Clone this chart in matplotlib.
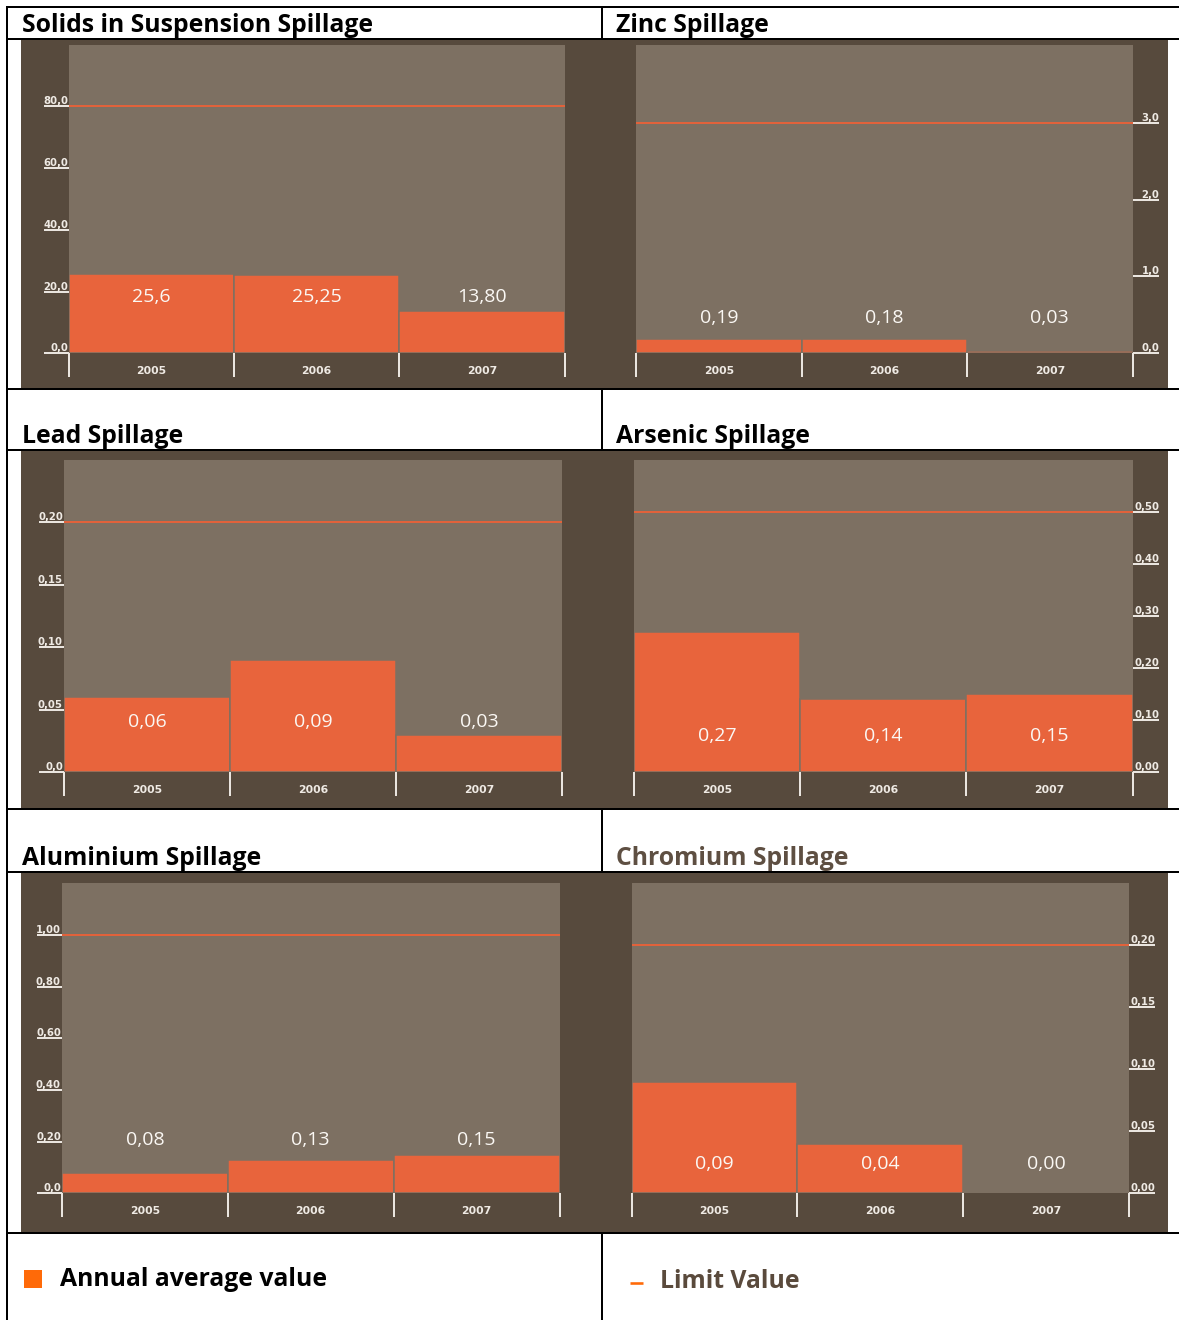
import matplotlib
matplotlib.use("Agg")
import matplotlib.pyplot as plt
from matplotlib.patches import Rectangle
from matplotlib.lines import Line2D

# ---------------------------------------------------------------- data
years = ["2005", "2006", "2007"]

solids_values = [25.6, 25.25, 13.80]
solids_labels = ["25,6", "25,25", "13,80"]
solids_limit = 80.0
solids_ticks = [0, 20, 40, 60, 80]
solids_ticklabels = ["0,0", "20,0", "40,0", "60,0", "80,0"]

zinc_values = [0.19, 0.18, 0.03]
zinc_labels = ["0,19", "0,18", "0,03"]
zinc_limit = 3.0
zinc_ticks = [0, 1, 2, 3]
zinc_ticklabels = ["0,0", "1,0", "2,0", "3,0"]

lead_values = [0.06, 0.09, 0.03]
lead_labels = ["0,06", "0,09", "0,03"]
lead_limit = 0.20
lead_ticks = [0, 0.05, 0.10, 0.15, 0.20]
lead_ticklabels = ["0,0", "0,05", "0,10", "0,15", "0,20"]

arsenic_values = [0.27, 0.14, 0.15]
arsenic_labels = ["0,27", "0,14", "0,15"]
arsenic_limit = 0.50
arsenic_ticks = [0, 0.10, 0.20, 0.30, 0.40, 0.50]
arsenic_ticklabels = ["0,00", "0,10", "0,20", "0,30", "0,40", "0,50"]

aluminium_values = [0.08, 0.13, 0.15]
aluminium_labels = ["0,08", "0,13", "0,15"]
aluminium_limit = 1.00
aluminium_ticks = [0, 0.20, 0.40, 0.60, 0.80, 1.00]
aluminium_ticklabels = ["0,0", "0,20", "0,40", "0,60", "0,80", "1,00"]

chromium_values = [0.09, 0.04, 0.00]
chromium_labels = ["0,09", "0,04", "0,00"]
chromium_limit = 0.20
chromium_ticks = [0, 0.05, 0.10, 0.15, 0.20]
chromium_ticklabels = ["0,00", "0,05", "0,10", "0,15", "0,20"]

titles = ["Solids in Suspension Spillage", "Zinc Spillage",
          "Lead Spillage", "Arsenic Spillage",
          "Aluminium Spillage", "Chromium Spillage"]
legend_labels = ["Annual average value", "Limit Value"]

# ---------------------------------------------------------------- style
W, H, DPI = 1179, 1320, 100
DARK = "#574a3d"
LIGHT = "#7d7062"
BAR = "#e8643c"
LIMIT = "#e4623a"
TICK = "#efeae4"
VALUE = "#fbf8f4"
LEGEND_ORANGE = "#ff6a08"
TITLE_FONT = ["Open Sans", "DejaVu Sans"]
SMALL_FONT = ["DejaVu Sans"]
PT = 72.0 / DPI  # points per pixel

plt.rcParams["font.family"] = TITLE_FONT

fig = plt.figure(figsize=(W / DPI, H / DPI), dpi=DPI, facecolor="white")


def fx(x):
    return x / W


def fy(y):
    return 1.0 - y / H


def hline(x0, x1, y, lw=2.0, color="black"):
    fig.add_artist(Line2D([fx(x0), fx(x1)], [fy(y), fy(y)], transform=fig.transFigure,
                          color=color, lw=lw * PT, zorder=10, solid_capstyle="butt"))


def vline(x, y0, y1, lw=2.0, color="black"):
    fig.add_artist(Line2D([fx(x), fx(x)], [fy(y0), fy(y1)], transform=fig.transFigure,
                          color=color, lw=lw * PT, zorder=10, solid_capstyle="butt"))


def rect(x0, y0, x1, y1, color, z=-5):
    fig.add_artist(Rectangle((fx(x0), fy(y1)), fx(x1 - x0), (y1 - y0) / H,
                             transform=fig.transFigure, facecolor=color,
                             edgecolor="none", zorder=z))


# brown bands behind each row of charts
for (top, bottom) in [(39, 388.5), (450.5, 808.5), (872.5, 1232)]:
    rect(21, top, 1168, bottom, DARK)

# table rules
for y in [7, 38.5, 389, 450, 809, 872.3, 1232.7]:
    hline(7, W, y)
vline(7.5, 6, H)
for (a, b) in [(6, 39), (388, 451), (808, 873), (1232, H)]:
    vline(602, a, b)

panels = [
    dict(values=solids_values, labels=solids_labels, limit=solids_limit,
         ticks=solids_ticks, ticklabels=solids_ticklabels, ymax=100.0,
         box=(69, 44.5, 564.5, 353.3), side="left", label_y=0.183,
         title=titles[0], title_xy=(22, 31.5), title_color="black"),
    dict(values=zinc_values, labels=zinc_labels, limit=zinc_limit,
         ticks=zinc_ticks, ticklabels=zinc_ticklabels, ymax=4.02,
         box=(636.2, 44.5, 1132.5, 353.3), side="right", label_y=0.114,
         title=titles[1], title_xy=(616, 31.5), title_color="black"),
    dict(values=lead_values, labels=lead_labels, limit=lead_limit,
         ticks=lead_ticks, ticklabels=lead_ticklabels, ymax=0.25,
         box=(64, 460, 562, 772.3), side="left", label_y=0.162,
         title=titles[2], title_xy=(22, 443), title_color="black"),
    dict(values=arsenic_values, labels=arsenic_labels, limit=arsenic_limit,
         ticks=arsenic_ticks, ticklabels=arsenic_ticklabels, ymax=0.60,
         box=(634.3, 460, 1132.5, 772.3), side="right", label_y=0.116,
         title=titles[3], title_xy=(616, 443), title_color="black"),
    dict(values=aluminium_values, labels=aluminium_labels, limit=aluminium_limit,
         ticks=aluminium_ticks, ticklabels=aluminium_ticklabels, ymax=1.20,
         box=(62, 883.3, 559.5, 1193.3), side="left", label_y=0.172,
         title=titles[4], title_xy=(22, 865), title_color="black"),
    dict(values=chromium_values, labels=chromium_labels, limit=chromium_limit,
         ticks=chromium_ticks, ticklabels=chromium_ticklabels, ymax=0.25,
         box=(631.8, 883.3, 1128.8, 1193.3), side="right", label_y=0.095,
         title=titles[5], title_xy=(616, 865), title_color="#5e4f42"),
]

YTICK_LEN = 25.5 * PT
XTICK_LEN = 24.0 * PT
TICK_SIZE = 7.3
YEAR_SIZE = 7.8

for p in panels:
    x0, y0, x1, y1 = p["box"]
    ax = fig.add_axes([fx(x0), fy(y1), fx(x1 - x0), (y1 - y0) / H])
    ax.set_facecolor(LIGHT)
    for s in ax.spines.values():
        s.set_visible(False)

    xs = list(range(len(years)))
    ax.bar(xs, p["values"], width=1.0, align="edge", color=BAR,
           edgecolor=LIGHT, linewidth=1.1, zorder=2)
    ax.axhline(p["limit"], color=LIMIT, lw=1.4, zorder=3)
    for i, lab in enumerate(p["labels"]):
        ax.text(i + 0.5, p["label_y"], lab, transform=ax.get_xaxis_transform(),
                ha="center", va="center", color=VALUE, fontsize=14,
                fontweight="medium", family=TITLE_FONT, zorder=4)

    ax.set_xlim(0, len(years))
    ax.set_ylim(0, p["ymax"])

    # x axis: white separators between years, year names centred below bars
    ax.set_xticks(range(len(years) + 1))
    ax.set_xticks([i + 0.5 for i in xs], minor=True)
    ax.set_xticklabels(years, minor=True)
    ax.tick_params(axis="x", which="major", length=XTICK_LEN, width=1.4,
                   color=TICK, labelbottom=False, direction="out")
    ax.tick_params(axis="x", which="minor", length=0, pad=9.3,
                   labelcolor=TICK, labelsize=YEAR_SIZE)
    for t in ax.get_xticklabels(minor=True):
        t.set_fontweight("bold")
        t.set_family(SMALL_FONT)

    # y axis: underlined value scale outside the plotting area
    ax.set_yticks(p["ticks"])
    ax.set_yticklabels(p["ticklabels"])
    if p["side"] == "left":
        ax.yaxis.set_ticks_position("left")
        ax.tick_params(axis="y", length=YTICK_LEN, width=1.4, color=TICK,
                       direction="out", pad=-YTICK_LEN + 1 * PT,
                       labelcolor=TICK, labelsize=TICK_SIZE)
        lbls = ax.get_yticklabels()
        for t in lbls:
            t.set_ha("right")
    else:
        ax.yaxis.set_ticks_position("right")
        ax.tick_params(axis="y", length=YTICK_LEN, width=1.4, color=TICK,
                       direction="out", pad=1.5 * PT, labelleft=False,
                       labelright=True, labelcolor=TICK, labelsize=TICK_SIZE)
        lbls = [tk.label2 for tk in ax.yaxis.get_major_ticks()]
        for t in lbls:
            t.set_ha("right")
    for t in lbls:
        t.set_va("bottom")
        t.set_fontweight("bold")
        t.set_family(SMALL_FONT)

    tx, ty = p["title_xy"]
    fig.text(fx(tx), fy(ty), p["title"], ha="left", va="baseline",
             fontsize=17.8, fontweight="bold", color=p["title_color"],
             family=TITLE_FONT)

# legend row
rect(24, 1269.5, 41.5, 1288, LEGEND_ORANGE, z=5)
fig.text(fx(60), fy(1280), legend_labels[0], ha="left", va="center",
         fontsize=17.8, fontweight="bold", color="black", family=TITLE_FONT)
hline(629.5, 643, 1283, lw=2.6, color=LEGEND_ORANGE)
fig.text(fx(660), fy(1281), legend_labels[1], ha="left", va="center",
         fontsize=17.8, fontweight="bold", color="#5a4a3c", family=TITLE_FONT)

fig.savefig("out.png", dpi=DPI, facecolor="white")
